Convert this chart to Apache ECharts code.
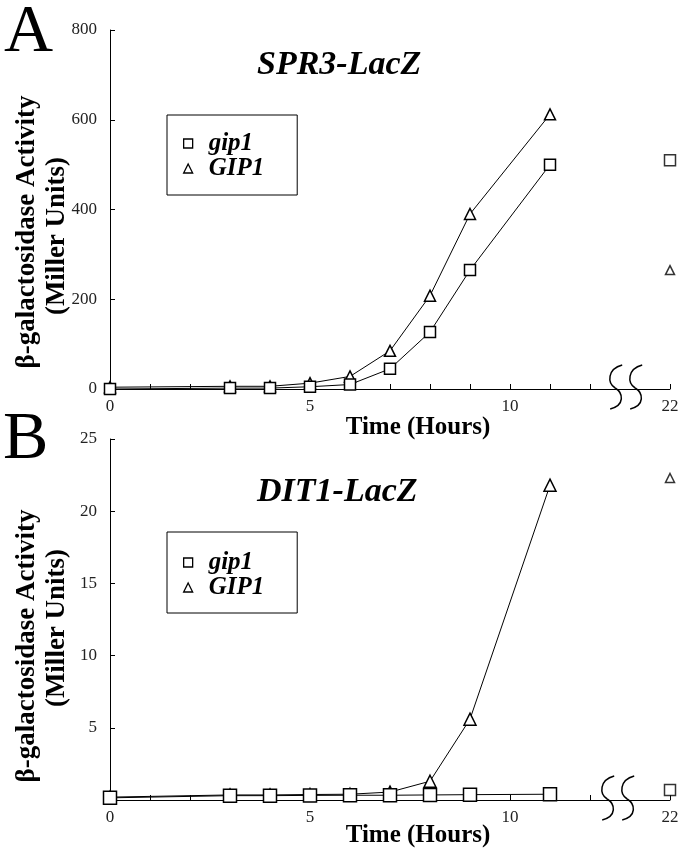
<!DOCTYPE html>
<html>
<head>
<meta charset="utf-8">
<script src="https://cdn.jsdelivr.net/npm/echarts@6/dist/echarts.min.js"></script>
<style>
html,body{margin:0;padding:0;background:#fff;}
#chart{width:687px;height:853px;}
</style>
</head>
<body>
<div id="chart"></div>
<script>
// ---- data ----
const hours = [0, 3, 4, 5, 6, 7, 8, 9, 11];
const gip1_A = [0, 2, 2, 5, 10, 45, 127, 265, 500];
const GIP1_A = [4, 6, 6, 13, 28, 85, 208, 390, 612];
const lateHour = 22;            // point after the axis break
const gip1_A_late = 510;
const GIP1_A_late = 265;
const gip1_B = [0.15, 0.3, 0.3, 0.32, 0.33, 0.33, 0.35, 0.37, 0.4];
const GIP1_B = [0.2, 0.35, 0.35, 0.38, 0.4, 0.55, 1.3, 5.6, 21.8];
const gip1_B_late = 0.7;
const GIP1_B_late = 22.3;
const xLabelHours = [0, 5, 10, 22];
const yMaxA = 800, yStepA = 200;
const yMaxB = 25, yStepB = 5;

// broken axis: hours after the break are drawn at position 14
const breakPos = 14;
const toAxis = h => (h > 12 ? breakPos : h);

const FONT = 'Liberation Serif';
const pairs = (xs, ys) => xs.map((x, i) => [toAxis(x), ys[i]]);

function xAxisDef(gi) {
  return {
    type: 'value', gridIndex: gi, min: 0, max: breakPos,
    axisLine: { show: true, onZero: false, lineStyle: { color: '#000', width: 1 } },
    axisTick: { show: true, inside: true, length: 5, lineStyle: { color: '#000' },
      customValues: [0,1,2,3,4,5,6,7,8,9,10,11,12,breakPos] },
    axisLabel: { show: true, margin: 9, fontFamily: FONT, fontSize: 17, color: '#222',
      customValues: xLabelHours.map(toAxis),
      formatter: v => String(v === breakPos ? lateHour : v) },
    splitLine: { show: false }
  };
}
function yAxisDef(gi, max, step, hideZero) {
  return {
    type: 'value', gridIndex: gi, min: 0, max: max, interval: step,
    axisLine: { show: true, onZero: false, lineStyle: { color: '#000', width: 1 } },
    axisTick: { show: true, inside: true, length: 5, lineStyle: { color: '#000' } },
    axisLabel: { margin: 13, fontFamily: FONT, fontSize: 17, color: '#222',
      formatter: v => (hideZero && v === 0 ? '' : String(v)) },
    splitLine: { show: false }
  };
}
const markStyle = { color: '#fff', borderColor: '#000', borderWidth: 1.5 };
function lineSeries(name, sym, size, data, gi) {
  return { type: 'line', name: name, xAxisIndex: gi, yAxisIndex: gi, data: data,
    symbol: sym, symbolSize: size, showAllSymbol: true,
    lineStyle: { color: '#000', width: 1 }, itemStyle: markStyle, emphasis: { disabled: true } };
}
function lateSeries(name, sym, size, val, gi) {
  return { type: 'scatter', name: name, xAxisIndex: gi, yAxisIndex: gi,
    data: [[toAxis(lateHour), val]], symbol: sym, symbolSize: size,
    itemStyle: markStyle, emphasis: { disabled: true } };
}
// legend icons: 9x9 glyph placed inside a 31x9 slot (move-to points set the slot size)
const ICON_SQUARE = 'path://M0,0M31,9M11,0L20,0L20,9L11,9Z';
const ICON_TRI = 'path://M0,0M31,9M15.5,0L20,9L11,9Z';
function legendDef(top, pad, lh) {
  return {
    orient: 'vertical', left: 167, top: top, padding: pad, itemGap: 0,
    itemWidth: 31, itemHeight: 9, symbolKeepAspect: true,
    borderColor: '#000', borderWidth: 1, selectedMode: false,
    itemStyle: { color: '#fff', borderColor: '#000', borderWidth: 1.3 },
    textStyle: { fontFamily: FONT, fontWeight: 'bold', fontStyle: 'italic', fontSize: 25, color: '#000', lineHeight: lh },
    data: [{ name: 'gip1', icon: ICON_SQUARE }, { name: 'GIP1', icon: ICON_TRI }]
  };
}
function txt(id, text, x, y, size, opts) {
  return Object.assign({ type: 'text', id: id, x: x, y: y, silent: true,
    style: Object.assign({ text: text, fontFamily: FONT, fontSize: size, fill: '#000',
      align: 'center', verticalAlign: 'middle' }, (opts && opts.style) || {}) },
    (opts && opts.el) || {});
}

const chart = echarts.init(document.getElementById('chart'), null, { renderer: 'canvas' });
const option = {
  animation: false,
  backgroundColor: '#fff',
  grid: [
    { left: 110, top: 30, width: 560, height: 359 },
    { left: 110, top: 439, width: 560, height: 361 }
  ],
  xAxis: [xAxisDef(0), xAxisDef(1)],
  yAxis: [yAxisDef(0, yMaxA, yStepA, false), yAxisDef(1, yMaxB, yStepB, true)],
  legend: [legendDef(115, [16, 33, 14, 5], 24), legendDef(532, [18, 33, 13, 5], 23)],
  series: [
    lineSeries('GIP1', 'triangle', 11, pairs(hours, GIP1_A), 0),
    lineSeries('gip1', 'rect', 11, pairs(hours, gip1_A), 0),
    lateSeries('GIP1', 'triangle', 9, GIP1_A_late, 0),
    lateSeries('gip1', 'rect', 11, gip1_A_late, 0),
    lineSeries('GIP1', 'triangle', 12, pairs(hours, GIP1_B), 1),
    lineSeries('gip1', 'rect', 13, pairs(hours, gip1_B), 1),
    lateSeries('GIP1', 'triangle', 9, GIP1_B_late, 1),
    lateSeries('gip1', 'rect', 11, gip1_B_late, 1)
  ]
};
chart.setOption(option);

// decorations: panel letters, titles, axis names, break marks
const rot = { el: { rotation: Math.PI / 2 }, style: { fontWeight: 'bold' } };
const bold = { style: { fontWeight: 'bold' } };
const ttl = { style: { fontWeight: 'bold', fontStyle: 'italic', align: 'left' } };
const gfx = [
  txt('letA', 'A', 4, 33, 68, { style: { align: 'left' } }),
  txt('letB', 'B', 3, 440, 68, { style: { align: 'left' } }),
  txt('titA', 'SPR3-LacZ', 257, 65, 34, ttl),
  txt('titB', 'DIT1-LacZ', 257, 492, 34, ttl),
  txt('yA1', 'β-galactosidase Activity', 27, 232, 27, rot),
  txt('yA2', '(Miller Units)', 57, 236, 27, rot),
  txt('yB1', 'β-galactosidase Activity', 27, 646, 27, rot),
  txt('yB2', '(Miller Units)', 57, 628, 27, rot),
  txt('xA', 'Time (Hours)', 418, 428, 25, bold),
  txt('xB', 'Time (Hours)', 418, 836, 25, bold)
];
// S-shaped break mark made of two cubic curves (local coords, origin on the axis)
const squiggle = [
  { x1: 7, y1: -24, cpx1: -8, cpy1: -20, cpx2: -8, cpy2: -6, x2: 0, y2: -1 },
  { x1: 0, y1: -1, cpx1: 8, cpy1: 4, cpx2: 10, cpy2: 16, x2: -5, y2: 20 }
];
[[0, 12.63], [0, 13.13], [1, 12.43], [1, 12.93]].forEach((b, i) => {
  const p = chart.convertToPixel({ gridIndex: b[0] }, [b[1], 0]);
  squiggle.forEach((s, j) => {
    gfx.push({ type: 'bezierCurve', id: 'brk' + i + '_' + j, x: p[0], y: p[1], silent: true,
      shape: s, style: { fill: null, stroke: '#000', lineWidth: 1.5 } });
  });
});
chart.setOption({ graphic: gfx });
</script>
</body>
</html>
